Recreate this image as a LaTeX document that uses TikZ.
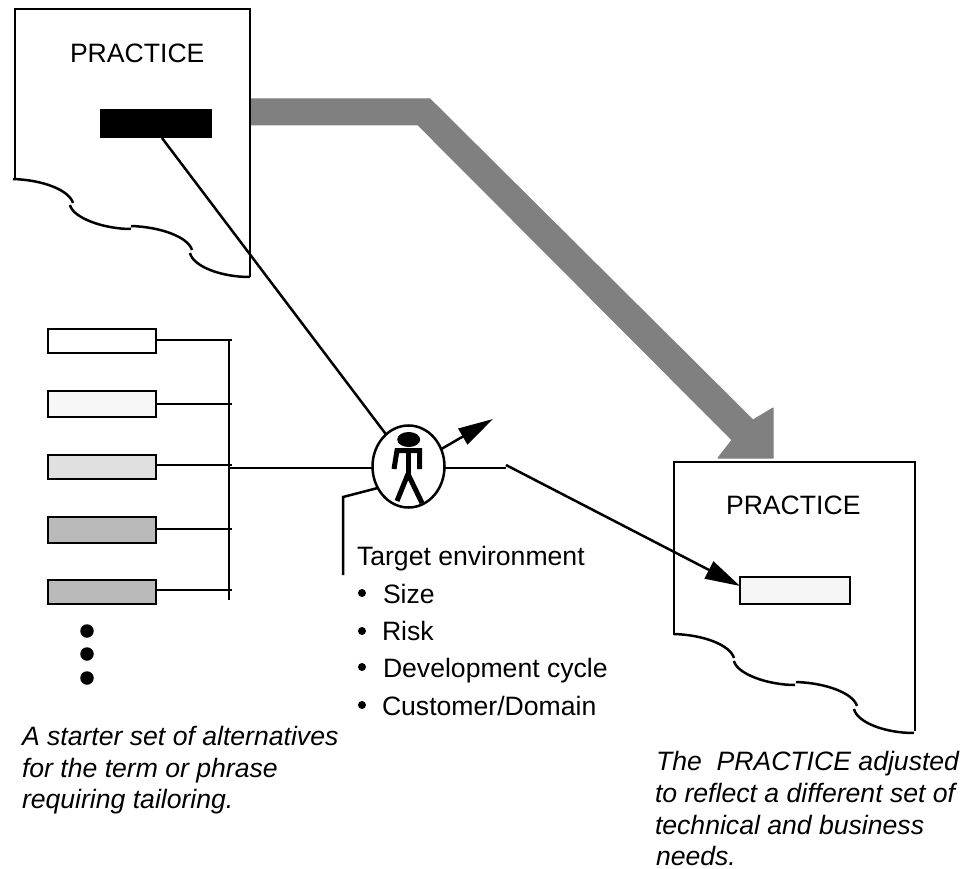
\documentclass[tikz,border=0pt]{standalone}
\usepackage{fontspec}
\setmainfont{Liberation Sans}
\usetikzlibrary{arrows.meta,shapes.geometric}
\tikzset{
  x=1pt,y=-1pt,
  ln/.style={line width=2.5pt,black},
  thin ln/.style={line width=2.2pt,black},
  opt/.style={draw=black,line width=2.6pt,minimum width=108pt,inner sep=0pt,outer sep=0pt},
  txt/.style={anchor=base west,inner sep=0pt,outer sep=0pt,font=\fontsize{26.6}{30}\selectfont},
  captxt/.style={anchor=base west,inner sep=0pt,outer sep=0pt,font=\fontsize{26.6}{30}\selectfont\itshape},
  bigdot/.style={circle,fill=black,inner sep=0pt,minimum size=13.5pt},
  bul/.style={circle,fill=black,inner sep=0pt,minimum size=8pt},
  bigtip/.style={-{Triangle[length=35pt,width=19pt]},line width=2.5pt}
}
\newcommand{\wave}[8]{%
  \draw[ln] (#1,#2) .. controls (#1+30,#2+1) and (#1+56,#2+11) .. (#1+60,#2+24);
  \draw[ln] (#3,#4) .. controls (#3+3,#4+13) and (#3+34,#4+24) .. (#3+61,#4+24);
  \draw[ln] (#5,#6) .. controls (#5+30,#6+1) and (#5+57,#6+11) .. (#5+61,#6+24);
  \draw[ln] (#7,#8) .. controls (#7+3,#8+13) and (#7+30,#8+24) .. (#7+60,#8+24);
}
\begin{document}
\begin{tikzpicture}
\useasboundingbox (0,0) rectangle (964,869);
% gray arrow
\fill[fill=black!50,draw=black!50,line width=1pt,line join=round]
  (251,99) -- (430,99) -- (753,420) -- (773,408) -- (773,458) -- (718,458) -- (732,440) -- (418,125) -- (251,125) -- cycle;
% document 1
\draw[ln] (15,179) -- (15,9) -- (250,9) -- (250,277);
\wave{13}{179}{70}{205}{131}{226}{190}{253}
% document 2
\draw[ln] (674,635) -- (674,462) -- (915,462) -- (915,731);
\wave{674}{634}{734}{661}{796}{682}{854}{709}
\node[txt] (p1) at (70,63) {PRACTICE};
\node[txt] (p2) at (726,514) {PRACTICE};
\node[fill=black,minimum width=112pt,minimum height=29pt,inner sep=0pt,outer sep=0pt] (term) at (155.5,123.5) {};
\node[draw=black,line width=2.6pt,fill=black!4,minimum width=110pt,minimum height=27pt,inner sep=0pt,outer sep=0pt] (new) at (795,590.5) {};
% alternatives
\node[opt,fill=white,minimum height=24pt] (a1) at (102,341) {};
\node[opt,fill=black!3,minimum height=26pt] (a2) at (102,404) {};
\node[opt,fill=black!12,minimum height=24pt] (a3) at (102,467) {};
\node[opt,fill=black!27,minimum height=26pt] (a4) at (102,530) {};
\node[opt,fill=black!27,minimum height=24pt] (a5) at (102,592) {};
\coordinate (bt) at (229,340);
\coordinate (bb) at (229,600);
\draw[ln] (bt) -- (bb);
\foreach \n/\y in {a1/340,a2/404,a3/465,a4/529,a5/590}{
  \draw[thin ln] (\n.east |- 0,\y) -- (232,\y);
}
\node[bigdot] (d1) at (87,631) {};
\node[bigdot] (d2) at (87,654) {};
\node[bigdot] (d3) at (87,678) {};
% person
\node[draw=black,line width=2.5pt,ellipse,minimum width=72pt,minimum height=82pt,inner sep=0pt,outer sep=0pt,fill=white] (env) at (408.5,466.5) {};
\fill[black] (408.7,439.5) ellipse [x radius=11.5pt,y radius=7.5pt];
\draw[line width=5pt,line join=miter] (394,469) -- (397,450.5) -- (419.5,450.5) -- (419.5,469);
\draw[line width=5pt] (408,450) -- (408,476);
\draw[line width=5pt,line join=round] (397,501) -- (408,474) -- (422,503);
% connectors
\draw[ln] (term.south -| 162,0) -- (env.125);
\coordinate (busout) at (230,468);
\draw[thin ln] (busout) -- (env.west |- busout);
\coordinate (cbend) at (343,497);
\coordinate (cend) at (343,575);
\draw[ln,line join=miter] (env.215) -- (cbend) -- (cend);
\coordinate (out) at (493,419);
\draw[-{Triangle[length=35pt,width=18pt]},line width=2.5pt] (env.28) -- (out);
\coordinate (j1) at (506,468);
\coordinate (j2) at (506,465);
\draw[ln] (env.east |- j1) -- (j1);
\draw[bigtip] (j2) -- (new.west |- 0,586);
% labels
\node[txt] (tgt) at (357,565) {Target environment};
\foreach \n/\by/\tx/\ty/\s in {b1/593/383/603/Size,b2/631/382/640/Risk,b3/667/383/677/Development cycle,b4/705/382/715/Customer\slash Domain}{
  \node[bul] (\n) at (362,\by) {};
  \node[txt] at (\tx,\ty) {\s};
}
\node[captxt] (c1) at (22,745) {A starter set of alternatives};
\node[captxt] (c2) at (22,777) {for the term or phrase};
\node[captxt] (c3) at (22,808) {requiring tailoring.};
\node[captxt] (d1t) at (656,770) {The\ \ PRACTICE adjusted};
\node[captxt] (d2t) at (655,802) {to reflect a different set of};
\node[captxt] (d3t) at (655,834) {technical and business};
\node[captxt] (d4t) at (656,865) {needs.};
\end{tikzpicture}
\end{document}
